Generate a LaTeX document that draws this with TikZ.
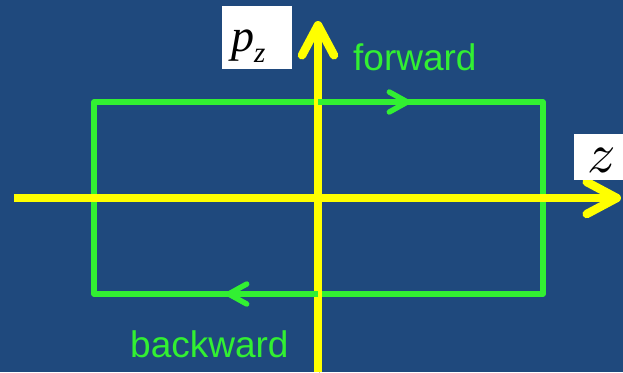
\documentclass[tikz,border=0pt]{standalone}
\usepackage{fontspec}
\newfontfamily\labelfont{Liberation Sans}
\newfontfamily\timesit{Liberation Serif}[ItalicFont={* Italic}]
\usetikzlibrary{arrows.meta}
\definecolor{bgblue}{RGB}{31,73,125}
\definecolor{lgreen}{RGB}{50,240,50}
\definecolor{axyellow}{RGB}{255,255,0}
\begin{document}
\begin{tikzpicture}[x=1pt,y=-1pt,
  axis/.style={draw=axyellow,line width=8.5pt,
    -{Straight Barb[length=30pt,width=32pt,round]},
    preaction={draw=black,draw opacity=0.25,transform canvas={xshift=1.5pt,yshift=-3pt}}},
  loopline/.style={draw=lgreen,line width=5.4pt,line join=round},
  looparrow/.style={draw=lgreen,line width=5.4pt,
    -{Straight Barb[length=18pt,width=20pt,round]}},
  whitebox/.style={fill=white},
  greenlabel/.style={text=lgreen,font=\labelfont\fontsize{37}{40}\selectfont,inner sep=0pt,anchor=base west}]
\useasboundingbox (0,0) rectangle (623,372);
\fill[bgblue] (0,0) rectangle (623,372);
% loop corners
\coordinate (tl) at (94,102);
\coordinate (tr) at (543,102);
\coordinate (br) at (543,294);
\coordinate (bl) at (94,294);
\coordinate (topmid) at (318,102);
\coordinate (topend) at (410,102);
\coordinate (botmid) at (318,294);
\coordinate (botend) at (226,294);
\draw[loopline] (tl) -- (tr) -- (br) -- (bl) -- cycle;
% axes
\coordinate (zstart) at (14,198);
\coordinate (zend) at (621,198);
\coordinate (pstart) at (318,372);
\coordinate (pend) at (318,21);
\draw[axis] (zstart) -- (zend);
\draw[axis] (pstart) -- (pend);
% loop direction arrows
\draw[looparrow] (topmid) -- (topend);
\draw[looparrow] (botmid) -- (botend);
% axis labels
\fill[whitebox] (222,6) rectangle (292,69);
\node[inner sep=0pt,anchor=base west] (pz) at (231,51)
  {\timesit\itshape\fontsize{46}{48}\selectfont p\raisebox{-11pt}{\fontsize{29}{31}\selectfont z}};
\fill[whitebox] (574,134) rectangle (623,180);
\node[inner sep=0pt,anchor=base west,scale=5.6] (zl) at (586,172) {$z$};
% texts
\node[greenlabel] (fwd) at (353,70) {forward};
\node[greenlabel] (bwd) at (130,357) {backward};
\end{tikzpicture}
\end{document}
